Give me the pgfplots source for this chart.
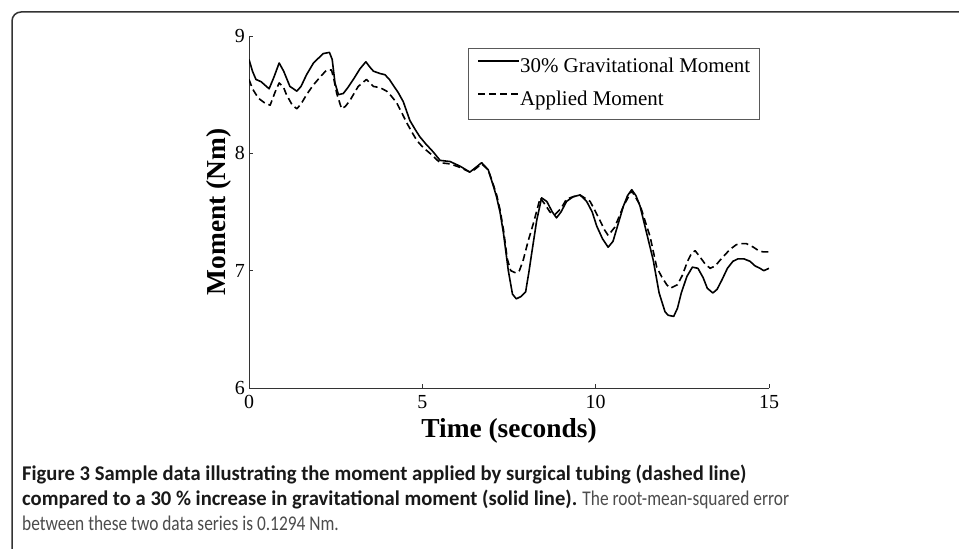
\documentclass[border=0pt]{standalone}
\usepackage{fontspec}
\setmainfont{Liberation Serif}
\newfontfamily\capfont[FakeStretch=0.985]{Carlito}
\newfontfamily\capreg[FakeStretch=0.83]{Carlito}
\usepackage{pgfplots}
\pgfplotsset{compat=1.18}
\begin{document}
\begin{tikzpicture}[x=1bp,y=1bp]
\useasboundingbox (0,0) rectangle (959,549);
\clip (0,0) rectangle (959,549);
\fill[white] (0,0) rectangle (959,549);
\draw[line width=1.5bp, black!80, rounded corners=9bp] (12,-30) rectangle (990,537);
\begin{axis}[
  at={(249bp,161bp)}, anchor=south west,
  width=520bp, height=352bp, scale only axis,
  xmin=0, xmax=15, ymin=6, ymax=9,
  axis lines=left,
  axis line style={-, black!80, line width=0.9bp},
  xtick={0,5,10,15}, ytick={6,7,8,9},
  tick align=inside, major tick length=4bp,
  tick style={black!80, line width=0.9bp},
  /pgf/number format/assume math mode=true,
  ticklabel style={font=\fontsize{20}{24}\selectfont},
  xticklabel style={inner sep=0pt, yshift=-7bp},
  yticklabel style={inner sep=0pt, xshift=-4bp},
  xlabel={Time (seconds)}, ylabel={Moment (Nm)},
  label style={font=\bfseries\fontsize{27.5}{30}\selectfont},
  xlabel style={at={(axis description cs:0.5,-0.142)}, anchor=base},
  ylabel style={at={(axis description cs:-0.0445,0.5)}, anchor=base},
  legend style={at={(axis description cs:0.4212,0.9659)}, anchor=north west,
    draw=black!65, line width=1bp, fill=white,
    inner xsep=9bp, inner ysep=9.5bp, row sep=14bp,
    font=\fontsize{21}{25}\selectfont,
    nodes={inner sep=0pt, text height=15bp, text depth=4bp},
    /tikz/every even column/.style={column sep=0bp}},
  legend cell align=left,
  legend image code/.code={\draw[#1] (0bp,6.5bp) -- (41bp,6.5bp);},
]
\addplot[black, line width=1.6bp, line join=round] table {
0.00 8.80
0.10 8.70
0.20 8.63
0.35 8.61
0.58 8.55
0.72 8.65
0.87 8.77
1.00 8.70
1.18 8.57
1.38 8.53
1.50 8.57
1.66 8.67
1.86 8.77
2.00 8.81
2.14 8.85
2.32 8.86
2.40 8.80
2.48 8.60
2.58 8.50
2.72 8.51
2.85 8.56
3.01 8.63
3.20 8.72
3.37 8.78
3.50 8.73
3.59 8.70
3.78 8.68
3.92 8.67
4.05 8.63
4.16 8.58
4.30 8.52
4.45 8.44
4.64 8.28
4.80 8.20
4.93 8.14
5.10 8.08
5.32 8.01
5.51 7.94
5.80 7.93
6.09 7.89
6.37 7.84
6.50 7.87
6.71 7.92
6.90 7.86
7.05 7.72
7.14 7.63
7.24 7.50
7.34 7.32
7.48 7.00
7.60 6.80
7.71 6.76
7.85 6.78
7.98 6.82
8.08 7.00
8.14 7.12
8.30 7.43
8.44 7.62
8.59 7.59
8.75 7.50
8.87 7.45
9.00 7.50
9.16 7.59
9.35 7.63
9.55 7.645
9.74 7.59
9.90 7.50
10.03 7.38
10.20 7.27
10.36 7.20
10.50 7.25
10.65 7.40
10.80 7.55
10.92 7.64
11.04 7.69
11.16 7.64
11.28 7.55
11.47 7.32
11.66 7.09
11.83 6.81
12.00 6.65
12.09 6.62
12.25 6.61
12.36 6.68
12.47 6.81
12.63 6.95
12.79 7.03
12.95 7.02
13.10 6.94
13.22 6.85
13.38 6.81
13.50 6.84
13.64 6.92
13.80 7.02
13.96 7.08
14.10 7.10
14.28 7.10
14.45 7.08
14.60 7.04
14.74 7.02
14.85 7.00
15.00 7.02
};
\addlegendentry{30\% Gravitational Moment}
\addplot[black, line width=1.6bp, line join=round, dash pattern=on 7bp off 4bp] table {
0.00 8.63
0.10 8.55
0.27 8.47
0.45 8.43
0.61 8.41
0.75 8.52
0.87 8.60
1.00 8.56
1.08 8.50
1.25 8.41
1.38 8.38
1.50 8.42
1.66 8.50
1.85 8.58
2.05 8.65
2.24 8.71
2.38 8.71
2.45 8.63
2.53 8.51
2.67 8.38
2.78 8.40
2.91 8.45
3.15 8.57
3.39 8.63
3.59 8.57
3.78 8.56
3.97 8.53
4.10 8.49
4.26 8.43
4.40 8.35
4.55 8.26
4.70 8.18
4.84 8.11
5.02 8.05
5.22 8.00
5.51 7.92
5.80 7.91
6.09 7.88
6.37 7.84
6.50 7.86
6.71 7.91
6.90 7.86
7.05 7.73
7.14 7.65
7.24 7.52
7.34 7.35
7.45 7.10
7.55 7.00
7.70 6.98
7.80 7.00
7.91 7.09
8.05 7.25
8.20 7.40
8.40 7.62
8.55 7.56
8.68 7.50
8.83 7.48
9.00 7.53
9.16 7.61
9.35 7.63
9.55 7.645
9.84 7.59
10.00 7.50
10.12 7.43
10.25 7.35
10.36 7.30
10.55 7.37
10.80 7.55
11.04 7.68
11.28 7.56
11.45 7.40
11.57 7.29
11.76 7.03
11.90 6.95
12.05 6.88
12.15 6.85
12.36 6.88
12.50 6.96
12.65 7.08
12.77 7.15
12.87 7.17
13.00 7.12
13.15 7.06
13.30 7.02
13.45 7.04
13.59 7.09
13.87 7.18
14.05 7.22
14.16 7.23
14.35 7.23
14.55 7.20
14.70 7.17
14.83 7.16
15.00 7.16
};
\addlegendentry{Applied Moment}
\end{axis}
\begin{scope}[every node/.style={anchor=base west, inner sep=0pt, font=\fontsize{21}{25}\selectfont}]
\node[text=black!90] at (22,68) {\capfont\bfseries Figure 3 Sample data illustrating the moment applied by surgical tubing (dashed line)};
\node at (22,43) {{\capfont\bfseries\color{black!90}compared to a 30~\% increase in gravitational moment (solid line).}\textcolor{black!70}{\capreg{} The root-mean-squared error}};
\node[text=black!70] at (22,18) {\capreg between these two data series is 0.1294 Nm.};
\end{scope}
\end{tikzpicture}
\end{document}
